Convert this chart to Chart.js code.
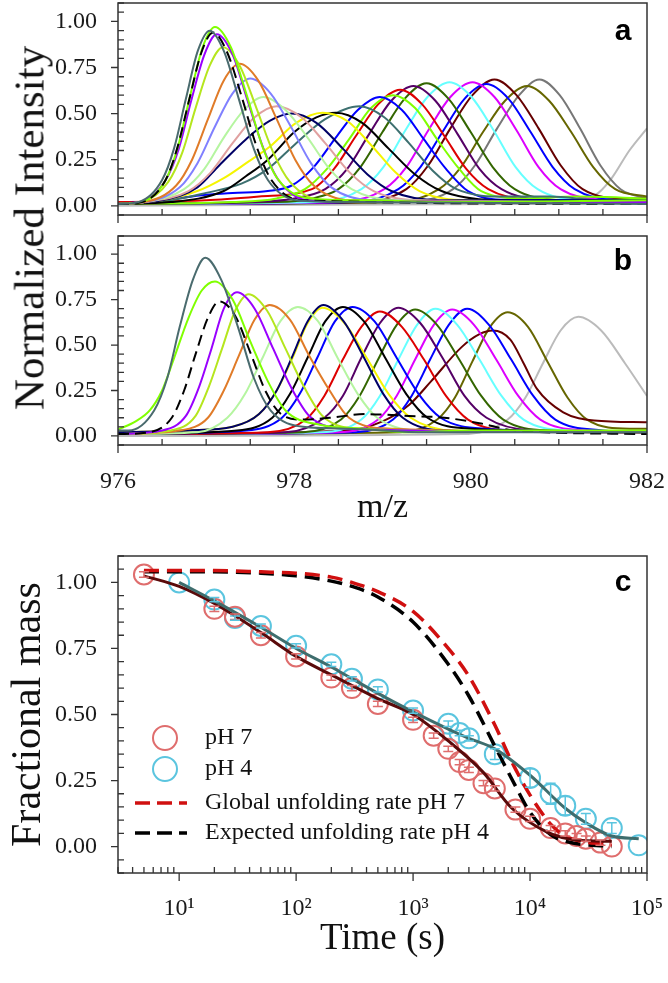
<!DOCTYPE html>
<html>
<head>
<meta charset="utf-8">
<script src="https://cdn.jsdelivr.net/npm/chart.js@4.4.0/dist/chart.umd.min.js"></script>
<style>
  html, body { margin: 0; padding: 0; background: #fff; }
  #wrap { position: relative; width: 668px; height: 983px; overflow: hidden; }
  canvas { position: absolute; left: 0; }
  #ylab { position: absolute; left: 29px; top: 228px; transform: translate(-50%, -50%) rotate(-90deg);
          font: 43px "Liberation Serif", serif; white-space: nowrap; color: #111; }
</style>
</head>
<body>
<div id="wrap">
  <canvas id="cA" width="668" height="225" style="top:0"></canvas>
  <canvas id="cB" width="668" height="300" style="top:225px"></canvas>
  <canvas id="cC" width="668" height="458" style="top:525px"></canvas>
  <div id="ylab">Normalized Intensity</div>
</div>
<script>
// ---- panel a: spectra, [m/z, intensity] ----
const curvesA = [
  [[976,.01],[976.23,.02],[976.5,.14],[976.635,.31],[976.77,.58],[976.905,.84],[977.04,.95],[977.2,.84],[977.37,.58],[977.54,.31],[977.7,.14],[978.03,.03],[978.6,.02],[982,.01]],
  [[976,.01],[976.27,.02],[976.54,.14],[976.67,.31],[976.81,.58],[976.945,.83],[977.08,.94],[977.24,.83],[977.41,.58],[977.58,.31],[977.74,.14],[978.07,.03],[982,.01]],
  [[976,.01],[976.26,.02],[976.54,.14],[976.68,.32],[976.82,.6],[976.96,.86],[977.1,.97],[977.28,.86],[977.46,.6],[977.64,.32],[977.82,.14],[978.18,.04],[978.8,.03],[979.8,.02],[982,.03]],
  [[976,.01],[976.25,.02],[976.54,.14],[976.69,.31],[976.83,.57],[976.98,.82],[977.12,.93],[977.3,.82],[977.47,.57],[977.65,.31],[977.82,.14],[978.17,.03],[982,.02]],
  [[976,.01],[976.26,.02],[976.57,.13],[976.73,.29],[976.88,.53],[977.04,.76],[977.19,.86],[977.38,.76],[977.57,.53],[977.76,.29],[977.95,.13],[978.33,.03],[982,.02]],
  [[976,.01],[976.3,.02],[976.66,.11],[976.84,.25],[977.02,.47],[977.2,.68],[977.38,.77],[977.59,.68],[977.8,.47],[978.01,.25],[978.22,.11],[978.64,.03],[982,.02]],
  [[976,.01],[976.3,.02],[976.7,.1],[976.9,.23],[977.1,.43],[977.3,.61],[977.5,.69],[977.73,.61],[977.96,.43],[978.19,.23],[978.42,.1],[978.88,.03],[982,.02]],
  [[976,.01],[976.3,.02],[976.75,.09],[976.98,.2],[977.2,.37],[977.43,.52],[977.65,.59],[977.9,.52],[978.15,.37],[978.4,.2],[978.65,.09],[979.15,.03],[982,.02]],
  [[976,.01],[976.3,.02],[976.8,.08],[977.05,.18],[977.3,.34],[977.55,.48],[977.8,.54],[978.08,.48],[978.35,.34],[978.63,.18],[978.9,.08],[979.45,.03],[982,.02]],
  [[976,.01],[976.5,.03],[976.9,.1],[977.15,.22],[977.45,.36],[977.72,.46],[977.97,.5],[978.25,.45],[978.55,.31],[978.83,.17],[979.1,.08],[979.65,.03],[982,.03]],
  [[976,.01],[976.5,.03],[976.9,.08],[977.2,.15],[977.45,.23],[977.72,.32],[978.02,.45],[978.32,.505],[978.6,.46],[978.87,.33],[979.15,.18],[979.42,.08],[979.97,.03],[982,.02]],
  [[976,.01],[976.6,.02],[977.2,.08],[977.45,.16],[977.7,.25],[978.0,.4],[978.25,.48],[978.47,.505],[978.77,.45],[979.07,.31],[979.37,.17],[979.67,.08],[980.27,.03],[982,.02]],
  [[976,.01],[976.6,.03],[977.0,.07],[977.4,.12],[977.7,.2],[978.0,.33],[978.35,.47],[978.74,.54],[979.02,.48],[979.3,.34],[979.57,.19],[979.84,.09],[980.4,.05],[980.9,.05],[981.5,.03],[982,.03]],
  [[976,.01],[976.5,.03],[977.0,.06],[977.3,.07],[977.7,.08],[977.97,.11],[978.22,.21],[978.47,.37],[978.72,.52],[978.97,.59],[979.22,.52],[979.47,.36],[979.72,.2],[979.97,.08],[980.5,.03],[982,.03]],
  [[976,.01],[977.3,.02],[977.8,.04],[978.12,.09],[978.37,.2],[978.62,.36],[978.87,.53],[979.12,.6],[979.37,.53],[979.62,.36],[979.87,.2],[980.12,.08],[980.62,.04],[981.2,.05],[982,.04]],
  [[976,.02],[977,.03],[977.6,.05],[978.2,.09],[978.45,.2],[978.7,.38],[978.95,.55],[979.2,.63],[979.45,.55],[979.7,.38],[979.95,.2],[980.2,.09],[980.7,.03],[982,.02]],
  [[976,.01],[977.5,.02],[978.0,.04],[978.35,.09],[978.6,.2],[978.85,.39],[979.1,.57],[979.35,.65],[979.6,.57],[979.85,.39],[980.1,.2],[980.35,.09],[980.85,.03],[982,.02]],
  [[976,.01],[977.8,.02],[978.2,.04],[978.5,.09],[978.75,.21],[979.0,.4],[979.25,.58],[979.5,.665],[979.75,.58],[980.0,.4],[980.25,.21],[980.5,.09],[981.0,.03],[982,.02]],
  [[976,.01],[978.26,.02],[978.76,.09],[979.01,.21],[979.26,.41],[979.51,.59],[979.76,.67],[980.01,.59],[980.26,.41],[980.51,.21],[980.76,.09],[981.26,.03],[982,.02]],
  [[976,.01],[978.52,.02],[979.02,.09],[979.27,.21],[979.52,.41],[979.77,.59],[980.02,.67],[980.27,.59],[980.52,.41],[980.77,.21],[981.02,.09],[981.52,.03],[982,.02]],
  [[976,.01],[978.68,.02],[979.18,.09],[979.43,.21],[979.68,.4],[979.93,.58],[980.18,.66],[980.43,.58],[980.68,.4],[980.93,.21],[981.18,.09],[981.68,.03],[982,.03]],
  [[976,.01],[978.77,.02],[979.27,.09],[979.52,.22],[979.77,.42],[980.02,.6],[980.27,.685],[980.52,.6],[980.77,.42],[981.02,.22],[981.27,.09],[981.77,.04],[982,.04]],
  [[976,.01],[979.14,.02],[979.64,.09],[979.89,.21],[980.14,.4],[980.39,.57],[980.64,.65],[980.89,.57],[981.14,.4],[981.39,.21],[981.64,.09],[982,.05]],
  [[976,.01],[979.3,.02],[979.8,.09],[980.05,.22],[980.3,.42],[980.55,.6],[980.78,.685],[981.01,.6],[981.24,.42],[981.47,.22],[981.7,.09],[982,.04]],
  [[976,.0],[980.5,.01],[981.0,.01],[981.3,.03],[981.45,.07],[981.6,.15],[981.8,.3],[982,.42]]
];
const colorsA = ['#4a6b6e','#000000','#80ff00','#9900ff','#b5e61d','#e07b28','#8080ff','#b5f5a0','#e0a0a0','#000066',
  '#f5f500','#000000','#3d7070','#0000ff','#80ff00','#dd0000','#550066','#336600','#66ffff','#dd00ff',
  '#0000ff','#660000','#666600','#777777','#bbbbbb'];
const dashedA = [1];

// ---- panel b: spectra ----
const curvesB = [
  [[976,.03],[976.12,.03],[976.41,.14],[976.56,.32],[976.7,.6],[976.85,.86],[976.99,.98],[977.17,.86],[977.36,.6],[977.54,.32],[977.73,.14],[978.1,.05],[978.6,.04],[979.5,.02],[982,.02]],
  [[976,.035],[976.2,.08],[976.36,.14],[976.5,.25],[976.63,.42],[976.8,.65],[976.95,.8],[977.1,.85],[977.3,.75],[977.5,.52],[977.7,.3],[977.9,.14],[978.3,.06],[978.8,.04],[979.3,.02],[980,.03],[982,.03]],
  [[976,.01],[976.35,.02],[976.61,.1],[976.75,.25],[976.88,.45],[977.02,.65],[977.15,.74],[977.33,.66],[977.5,.46],[977.68,.24],[977.85,.12],[978.1,.09],[978.4,.1],[978.8,.12],[979.3,.11],[979.7,.1],[980.1,.07],[980.5,.03],[982,.01]],
  [[976,.01],[976.5,.03],[976.77,.11],[976.92,.27],[977.06,.48],[977.2,.7],[977.35,.79],[977.55,.7],[977.76,.48],[977.96,.27],[978.17,.11],[978.6,.04],[982,.02]],
  [[976,.01],[976.6,.03],[976.88,.11],[977.03,.27],[977.18,.48],[977.33,.69],[977.48,.78],[977.69,.69],[977.9,.48],[978.11,.27],[978.32,.11],[978.75,.04],[982,.02]],
  [[976,.01],[976.7,.03],[977.02,.1],[977.2,.25],[977.37,.44],[977.55,.64],[977.72,.72],[977.95,.64],[978.17,.44],[978.4,.25],[978.62,.1],[979.1,.04],[982,.02]],
  [[976,.01],[976.9,.02],[977.24,.1],[977.44,.23],[977.64,.43],[977.84,.63],[978.04,.71],[978.27,.63],[978.49,.43],[978.72,.23],[978.94,.1],[979.4,.03],[982,.02]],
  [[976,.02],[976.8,.03],[977.3,.05],[977.6,.12],[977.8,.25],[977.98,.44],[978.15,.63],[978.33,.72],[978.56,.63],[978.78,.44],[979.01,.23],[979.23,.1],[979.7,.03],[982,.02]],
  [[976,.02],[976.8,.03],[977.3,.05],[977.6,.12],[977.8,.25],[977.98,.43],[978.15,.62],[978.32,.705],[978.57,.62],[978.82,.43],[979.07,.23],[979.32,.1],[979.8,.03],[982,.02]],
  [[976,.01],[977.35,.03],[977.75,.1],[977.95,.23],[978.15,.43],[978.35,.63],[978.55,.71],[978.79,.63],[979.03,.43],[979.27,.23],[979.51,.1],[980.0,.04],[982,.02]],
  [[976,.01],[977.46,.03],[977.86,.1],[978.06,.23],[978.26,.43],[978.46,.63],[978.66,.71],[978.91,.63],[979.16,.43],[979.41,.23],[979.66,.1],[980.16,.04],[982,.02]],
  [[976,.01],[977.7,.02],[978.13,.09],[978.34,.22],[978.55,.42],[978.76,.6],[978.97,.685],[979.22,.6],[979.47,.42],[979.72,.22],[979.97,.09],[980.5,.03],[982,.02]],
  [[976,.01],[977.9,.02],[978.34,.1],[978.55,.22],[978.76,.43],[978.97,.62],[979.18,.705],[979.43,.62],[979.68,.43],[979.93,.22],[980.18,.1],[980.7,.03],[982,.02]],
  [[976,.01],[978.1,.02],[978.53,.09],[978.74,.22],[978.95,.42],[979.16,.61],[979.37,.695],[979.62,.61],[979.87,.42],[980.12,.22],[980.37,.09],[980.9,.03],[982,.02]],
  [[976,.01],[978.3,.02],[978.76,.09],[978.97,.22],[979.18,.42],[979.39,.61],[979.6,.7],[979.85,.61],[980.1,.42],[980.35,.22],[980.6,.09],[981.1,.03],[982,.02]],
  [[976,.01],[978.5,.02],[978.95,.09],[979.16,.22],[979.37,.42],[979.58,.61],[979.79,.695],[980.04,.61],[980.29,.42],[980.54,.22],[980.79,.09],[981.3,.03],[982,.02]],
  [[976,.01],[978.7,.02],[979.12,.09],[979.33,.22],[979.54,.42],[979.75,.61],[979.96,.7],[980.21,.61],[980.46,.42],[980.71,.22],[980.96,.09],[981.5,.03],[982,.02]],
  [[976,.01],[978.6,.03],[979.0,.08],[979.3,.17],[979.55,.3],[979.9,.49],[980.1,.56],[980.25,.58],[980.45,.53],[980.6,.4],[980.75,.26],[981.05,.13],[981.4,.085],[982,.075]],
  [[976,.01],[979.2,.02],[979.62,.09],[979.82,.21],[980.02,.41],[980.22,.6],[980.42,.68],[980.65,.6],[980.87,.41],[981.1,.21],[981.32,.09],[981.8,.04],[982,.04]],
  [[976,.0],[979.9,.01],[980.42,.09],[980.62,.21],[980.82,.4],[981.02,.58],[981.22,.655],[981.48,.58],[981.75,.4],[982,.22]]
];
const colorsB = ['#4a6b6e','#80ff00','#000000','#9900ff','#b5e61d','#e07b28','#b5f5a0','#000066','#f5f500','#000000',
  '#0000ff','#dd0000','#550066','#336600','#66ffff','#dd00ff','#0000ff','#660000','#666600','#bbbbbb'];
const dashedB = [2];

// ---- panel c: fractional mass vs time ----
const timePH7 = [5, 20, 30, 50, 100, 200, 300, 500, 1000, 1500, 2000, 2500, 3000, 4000, 5000, 7500, 10000, 15000, 20000, 25000, 30000, 40000, 50000];
const massPH7 = [1.03, .90, .87, .80, .72, .64, .60, .54, .48, .42, .37, .32, .29, .24, .22, .14, .105, .07, .05, .04, .03, .015, 0];
const errPH7  = [.01, .01, .01, .01, .01, .01, .01, .01, .01, .01, .01, .01, .01, .01, .01, .01, .01, .01, .01, .01, .01, .01, 0];
const timePH4 = [10, 20, 30, 50, 100, 200, 300, 500, 1000, 2000, 2500, 3000, 5000, 10000, 15000, 20000, 30000, 50000, 85000];
const massPH4 = [1.0, .935, .865, .835, .76, .69, .635, .595, .515, .465, .43, .41, .35, .26, .20, .155, .105, .07, .005];
const errPH4  = [0, .008, .008, .008, .008, .008, .008, .01, .01, .01, .01, .01, .02, .035, .04, .035, .02, .02, 0];
const fitTime7 = [5, 10, 20, 50, 100, 200, 500, 1000, 2000, 4000, 7000, 14000, 25000, 50000];
const fitMass7 = [1.025, .985, .92, .81, .72, .65, .56, .50, .40, .28, .145, .055, .025, .02];
const fitTime4 = [10, 20, 50, 100, 200, 500, 1000, 2000, 3000, 5000, 10000, 20000, 30000, 50000, 85000];
const fitMass4 = [1.0, .93, .83, .75, .68, .58, .51, .445, .41, .37, .27, .145, .09, .04, .03];
const rateTime = [5, 20, 50, 100, 200, 300, 500, 1000, 2000, 3000, 5000, 7000, 10000, 15000, 20000, 50000];
const globalPH7 = [1.045, 1.045, 1.04, 1.035, 1.02, 1.0, .965, .89, .75, .645, .46, .32, .195, .085, .04, .005];
const expectedPH4 = [1.04, 1.04, 1.035, 1.025, 1.005, .985, .945, .85, .69, .57, .38, .255, .13, .045, .02, 0];

Chart.defaults.font.family = '"Liberation Serif", "Times New Roman", serif';
Chart.defaults.color = '#1a1a1a';
Chart.defaults.animation = false;

const AXIS = '#333';
const serif = '"Liberation Serif", serif';

function steps(from, to, step) {
  const out = [];
  const n = Math.round((to - from) / step);
  for (let i = 0; i <= n; i++) out.push(Math.round((from + i * step) * 1000) / 1000);
  return out;
}

// frame, ticks (major outside, minor inside) and panel letter
const frame = {
  id: 'frame',
  afterDatasetsDraw(chart, args, o) {
    const {ctx, chartArea: a, scales} = chart;
    ctx.save();
    ctx.strokeStyle = AXIS;
    ctx.lineWidth = 1.5;
    ctx.strokeRect(a.left, a.top, a.right - a.left, a.bottom - a.top);
    ctx.lineWidth = 1.3;
    ctx.beginPath();
    scales.x.ticks.forEach(t => {
      const px = scales.x.getPixelForValue(t.value);
      if (px < a.left - 1 || px > a.right + 1) return;
      if (o.xMajor(t.value)) { ctx.moveTo(px, a.bottom); ctx.lineTo(px, a.bottom + 8); }
      else { ctx.moveTo(px, a.bottom); ctx.lineTo(px, a.bottom - 6); }
    });
    scales.y.ticks.forEach(t => {
      const py = scales.y.getPixelForValue(t.value);
      if (py < a.top - 1 || py > a.bottom + 1) return;
      if (o.yMajor(t.value)) { ctx.moveTo(a.left, py); ctx.lineTo(a.left - 7, py); }
      else { ctx.moveTo(a.left, py); ctx.lineTo(a.left + 6, py); }
    });
    ctx.stroke();
    ctx.fillStyle = '#000';
    ctx.font = 'bold 30px "Liberation Sans", Arial, sans-serif';
    ctx.textAlign = 'center';
    ctx.textBaseline = 'middle';
    ctx.fillText(o.letter, a.right - 24, a.top + o.letterDy);
    ctx.restore();
  }
};

const isQuarter = v => v >= -1e-6 && v <= 1 + 1e-6 && Math.abs(v * 4 - Math.round(v * 4)) < 1e-6;
const isEvenMz = v => Math.abs(v / 2 - Math.round(v / 2)) < 1e-6;
const isDecade = v => Math.abs(Math.log10(v) - Math.round(Math.log10(v))) < 1e-6;

function spectrumSets(curves, colors, dashed) {
  return curves.map((pts, i) => ({
    data: pts.map(([x, y]) => ({x, y})),
    borderColor: colors[i],
    borderWidth: 2,
    borderDash: dashed.includes(i) ? [11, 6] : [],
    pointRadius: 0,
    cubicInterpolationMode: 'monotone',
    fill: false
  }));
}

function spectrumChart(id, curves, colors, dashed, opts) {
  return new Chart(document.getElementById(id), {
    type: 'line',
    data: {datasets: spectrumSets(curves, colors, dashed)},
    options: {
      responsive: false,
      layout: {padding: {top: opts.padTop, right: 21, left: 0, bottom: 0}},
      plugins: {legend: {display: false}, tooltip: {enabled: false},
        frame: {letter: opts.letter, letterDy: opts.letterDy, xMajor: isEvenMz, yMajor: isQuarter}},
      scales: {
        x: {
          type: 'linear', min: 976, max: 982,
          grid: {display: false, drawTicks: false},
          border: {display: false},
          afterBuildTicks: s => { s.ticks = steps(976, 982, 0.5).map(v => ({value: v})); },
          afterFit: s => { s.height = opts.xHeight; s.paddingLeft = 0; s.paddingRight = 0; },
          ticks: {display: opts.showX, autoSkip: false, maxRotation: 0, padding: 22,
            font: {size: 24, family: serif}, color: '#1a1a1a',
            callback: v => isEvenMz(v) ? String(v) : ''},
          title: {display: opts.showX, text: 'm/z', font: {size: 34, family: serif, lineHeight: 1},
            color: '#111', padding: {top: 0, bottom: 0}}
        },
        y: {
          min: -0.05, max: 1.1,
          grid: {display: false, drawTicks: false},
          border: {display: false},
          afterBuildTicks: s => { s.ticks = steps(-0.05, 1.1, 0.05).map(v => ({value: v})); },
          afterFit: s => { s.width = 118; s.paddingTop = 0; s.paddingBottom = 0; },
          ticks: {autoSkip: false, padding: 21, font: {size: 24, family: serif}, color: '#1a1a1a',
            callback: v => isQuarter(v) ? v.toFixed(2) : ''}
        }
      }
    },
    plugins: [frame]
  });
}

spectrumChart('cA', curvesA, colorsA, dashedA, {padTop: 3, xHeight: 10, showX: false, letter: 'a', letterDy: 29});
spectrumChart('cB', curvesB, colorsB, dashedB, {padTop: 11, xHeight: 80, showX: true, letter: 'b', letterDy: 26});

// ---- panel c ----
const RED_PT = '#df6d6d', CYAN_PT = '#5bc5df', RED_DASH = '#d01010', MAROON = '#5a0a0a', SLATE = '#3e6d6d';
const toXY = (t, v) => t.map((x, i) => ({x, y: v[i]}));
const sup = {'0':'\u2070','1':'\u00b9','2':'\u00b2','3':'\u00b3','4':'\u2074','5':'\u2075'};

const errorBars = {
  id: 'errorBars',
  afterDatasetsDraw(chart) {
    const {ctx, scales: {x, y}} = chart;
    chart.data.datasets.forEach(ds => {
      if (!ds.errors) return;
      ctx.save();
      ctx.strokeStyle = ds.borderColor;
      ctx.lineWidth = 1.5;
      ctx.beginPath();
      ds.data.forEach((p, i) => {
        const e = ds.errors[i];
        if (!e) return;
        const px = x.getPixelForValue(p.x);
        const y1 = y.getPixelForValue(p.y - e), y2 = y.getPixelForValue(p.y + e);
        ctx.moveTo(px, y1); ctx.lineTo(px, y2);
        ctx.moveTo(px - 5, y1); ctx.lineTo(px + 5, y1);
        ctx.moveTo(px - 5, y2); ctx.lineTo(px + 5, y2);
      });
      ctx.stroke();
      ctx.restore();
    });
  }
};

const legendC = {
  id: 'legendC',
  afterDraw(chart) {
    const {ctx, chartArea: a} = chart;
    const items = [
      {kind: 'circle', color: RED_PT, text: 'pH 7', dy: 182},
      {kind: 'circle', color: CYAN_PT, text: 'pH 4', dy: 213},
      {kind: 'dash', color: RED_DASH, text: 'Global unfolding rate pH 7', dy: 247},
      {kind: 'dash', color: '#000', text: 'Expected unfolding rate pH 4', dy: 277}
    ];
    ctx.save();
    items.forEach(it => {
      const y = a.top + it.dy, cx = a.left + 47;
      ctx.strokeStyle = it.color;
      if (it.kind === 'circle') {
        ctx.lineWidth = 2;
        ctx.beginPath(); ctx.arc(cx, y, 12, 0, Math.PI * 2); ctx.stroke();
      } else {
        ctx.lineWidth = 3.5;
        ctx.setLineDash([15, 7]);
        ctx.beginPath(); ctx.moveTo(cx - 30, y); ctx.lineTo(cx + 22, y); ctx.stroke();
        ctx.setLineDash([]);
      }
      ctx.fillStyle = '#111';
      ctx.font = '24px ' + serif;
      ctx.textAlign = 'left';
      ctx.textBaseline = 'middle';
      ctx.fillText(it.text, a.left + 87, y);
    });
    ctx.restore();
  }
};

const lineSet = (t, v, color, dash) => ({
  data: toXY(t, v), borderColor: color, borderWidth: dash ? 3.5 : 3, borderDash: dash ? [15, 8] : [],
  pointRadius: 0, cubicInterpolationMode: 'monotone', fill: false
});
const pointSet = (t, v, e, color) => ({
  data: toXY(t, v), errors: e, showLine: false, borderColor: color, backgroundColor: 'rgba(0,0,0,0)',
  pointRadius: 10, pointBorderWidth: 2, pointStyle: 'circle'
});

new Chart(document.getElementById('cC'), {
  type: 'line',
  data: {
    datasets: [
      lineSet(fitTime4, fitMass4, SLATE, false),
      lineSet(fitTime7, fitMass7, MAROON, false),
      lineSet(rateTime, globalPH7, RED_DASH, true),
      lineSet(rateTime, expectedPH4, '#000', true),
      pointSet(timePH7, massPH7, errPH7, RED_PT),
      pointSet(timePH4, massPH4, errPH4, CYAN_PT)
    ]
  },
  options: {
    responsive: false,
    layout: {padding: {top: 31, right: 21, left: 0, bottom: 0}},
    plugins: {legend: {display: false}, tooltip: {enabled: false},
      frame: {letter: 'c', letterDy: 27, xMajor: isDecade, yMajor: isQuarter}},
    scales: {
      x: {
        type: 'logarithmic', min: 3, max: 100000,
        grid: {display: false, drawTicks: false},
        border: {display: false},
        afterBuildTicks: s => {
          const list = [];
          for (let e = 0; e <= 4; e++) for (let d = 1; d <= 9; d++) {
            const v = d * Math.pow(10, e);
            if (v >= 3) list.push({value: v});
          }
          list.push({value: 100000});
          s.ticks = list;
        },
        afterFit: s => { s.height = 110; s.paddingLeft = 0; s.paddingRight = 0; },
        ticks: {autoSkip: false, maxRotation: 0, padding: 21, font: {size: 24, family: serif}, color: '#1a1a1a',
          callback: v => isDecade(v) ? '10' + sup[String(Math.round(Math.log10(v)))] : ''},
        title: {display: true, text: 'Time (s)', font: {size: 37, family: serif, lineHeight: 1},
          color: '#111', padding: {top: 0, bottom: 25}}
      },
      y: {
        min: -0.1, max: 1.1,
        grid: {display: false, drawTicks: false},
        border: {display: false},
        afterBuildTicks: s => { s.ticks = steps(-0.1, 1.1, 0.05).map(v => ({value: v})); },
        afterFit: s => { s.width = 118; s.paddingTop = 0; s.paddingBottom = 0; },
        ticks: {autoSkip: false, padding: 21, font: {size: 24, family: serif}, color: '#1a1a1a',
          callback: v => isQuarter(v) ? v.toFixed(2) : ''},
        title: {display: true, text: 'Fractional mass', font: {size: 42, family: serif, lineHeight: 1},
          color: '#111', padding: {top: 8, bottom: 0}}
      }
    }
  },
  plugins: [frame, errorBars, legendC]
});
</script>
</body>
</html>
